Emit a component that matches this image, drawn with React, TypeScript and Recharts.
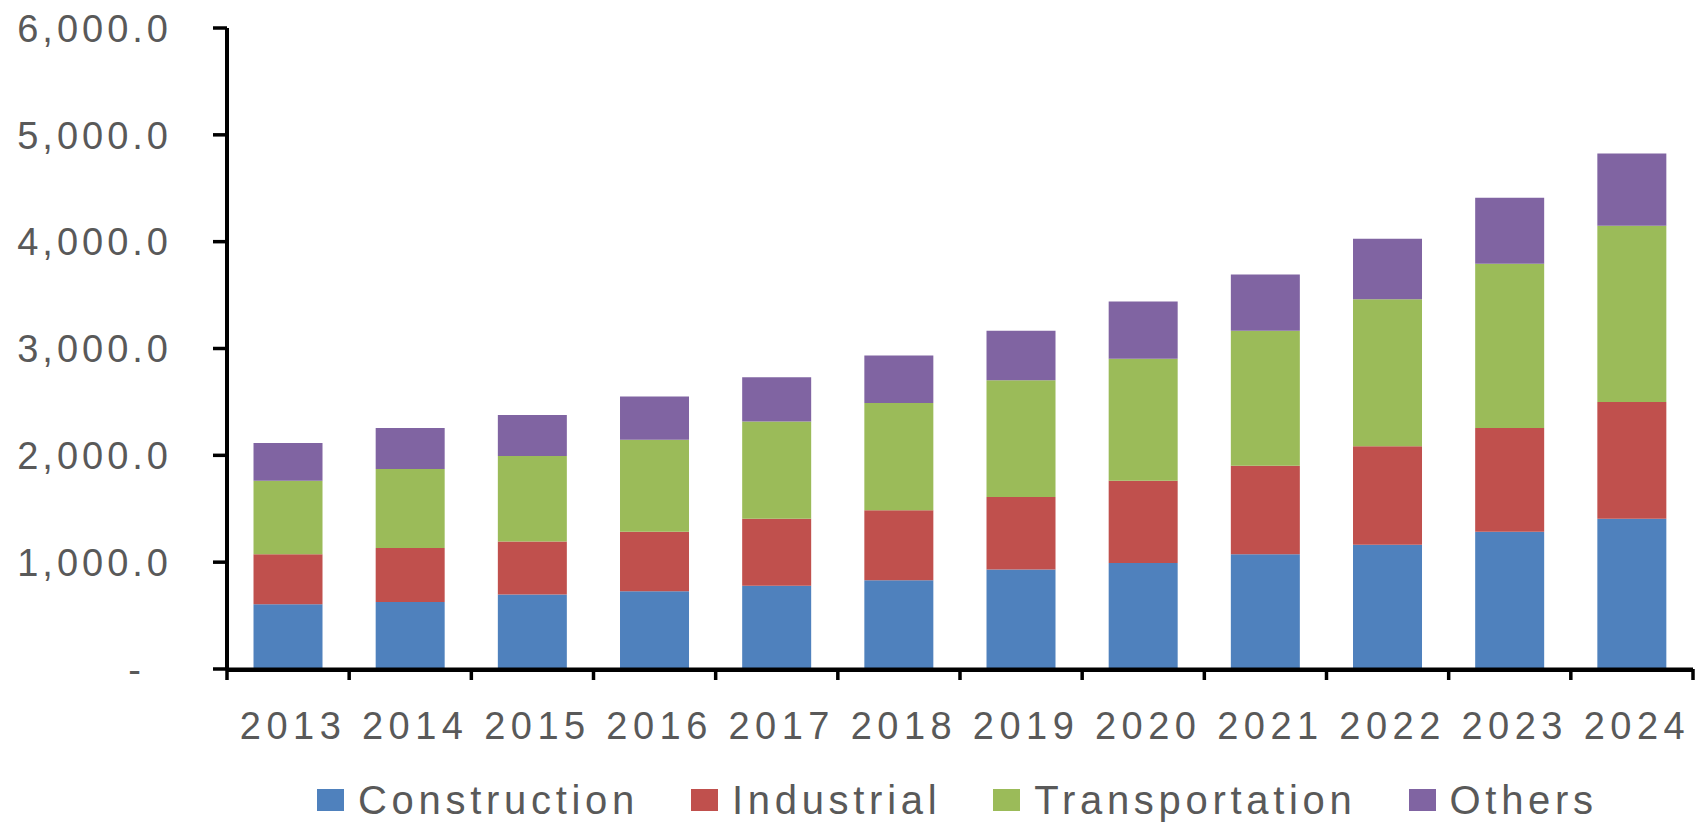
import React from "react";
import { BarChart, Bar, XAxis, YAxis } from "recharts";

const YEARS = ["2013", "2014", "2015", "2016", "2017", "2018", "2019", "2020", "2021", "2022", "2023", "2024"];
const CONSTRUCTION = [607, 627, 698, 728, 779, 830, 931, 992, 1073, 1164, 1285, 1406];
const INDUSTRIAL = [466, 506, 496, 557, 627, 657, 678, 769, 829, 920, 971, 1093];
const TRANSPORTATION = [688, 739, 799, 860, 911, 1002, 1093, 1143, 1265, 1376, 1538, 1650];
const OTHERS = [354, 384, 385, 405, 415, 445, 465, 536, 526, 567, 618, 677];
const Y_TICKS = [0, 1000, 2000, 3000, 4000, 5000, 6000];

const SERIES = [
  { key: "construction", name: "Construction", color: "#4f81bd" },
  { key: "industrial", name: "Industrial", color: "#c0504d" },
  { key: "transportation", name: "Transportation", color: "#9bbb59" },
  { key: "others", name: "Others", color: "#8064a2" },
];

const data = YEARS.map((year, i) => ({
  year,
  construction: CONSTRUCTION[i],
  industrial: INDUSTRIAL[i],
  transportation: TRANSPORTATION[i],
  others: OTHERS[i],
}));

const FONT = "'Liberation Sans', Arial, sans-serif";
const TEXT = "#595959";

function formatThousands(v: number) {
  return v.toLocaleString("en-US", { minimumFractionDigits: 1, maximumFractionDigits: 1 });
}

// category ticks sit between the bars, and the axis base is thickened under the bars
function YearTick(props: any) {
  const { x, y, payload, index, visibleTicksCount } = props;
  const half = payload?.offset || 61;
  const isLast = index === (visibleTicksCount ?? YEARS.length) - 1;
  return (
    <g>
      <line x1={x - half} x2={x + half} y1={y + 1.5} y2={y + 1.5} stroke="#000" strokeWidth={3} />
      <line x1={x - half} x2={x - half} y1={y} y2={y + 11} stroke="#000" strokeWidth={3.5} />
      {isLast && <line x1={x + half} x2={x + half} y1={y} y2={y + 11} stroke="#000" strokeWidth={3.5} />}
      <text
        x={x + 5}
        y={y + 70}
        textAnchor="middle"
        fill={TEXT}
        fontFamily={FONT}
        fontSize={38}
        letterSpacing={5.5}
      >
        {payload.value}
      </text>
    </g>
  );
}

function ValueTick(props: any) {
  const { x, y, payload } = props;
  const zero = payload.value === 0;
  return (
    <text
      x={zero ? x - 27 : x}
      y={y}
      dy="0.36em"
      textAnchor="end"
      fill={TEXT}
      fontFamily={FONT}
      fontSize={38}
      letterSpacing={4}
    >
      {zero ? "-" : formatThousands(payload.value)}
    </text>
  );
}

function ChartLegend() {
  return (
    <div
      style={{
        position: "absolute",
        left: 317,
        top: 775,
        display: "flex",
        alignItems: "center",
        gap: 52,
        fontFamily: FONT,
        fontSize: 40,
        letterSpacing: 4.7,
        color: TEXT,
        lineHeight: "50px",
        whiteSpace: "nowrap",
      }}
    >
      {SERIES.map((s) => (
        <div key={s.key} style={{ display: "flex", alignItems: "center" }}>
          <span style={{ width: 27, height: 22, background: s.color, marginRight: 14, display: "inline-block" }} />
          <span>{s.name}</span>
        </div>
      ))}
    </div>
  );
}

export default function App() {
  return (
    <div style={{ position: "absolute", left: 0, top: 0, width: 1700, height: 823, background: "#fff" }}>
      <BarChart
        width={1700}
        height={823}
        data={data}
        margin={{ top: 28, right: 7, left: 0, bottom: 0 }}
        barCategoryGap="21.7%"
      >
        <XAxis
          dataKey="year"
          height={154}
          axisLine={{ stroke: "#000", strokeWidth: 3 }}
          tickLine={false}
          tickSize={0}
          tickMargin={0}
          interval={0}
          tick={<YearTick />}
        />
        <YAxis
          width={227}
          domain={[0, 6000]}
          ticks={Y_TICKS}
          interval={0}
          axisLine={{ stroke: "#000", strokeWidth: 4 }}
          tickLine={{ stroke: "#000", strokeWidth: 3.5 }}
          tickSize={14}
          tickMargin={41}
          tick={<ValueTick />}
        />
        {SERIES.map((s) => (
          <Bar key={s.key} dataKey={s.key} name={s.name} stackId="a" fill={s.color} isAnimationActive={false} />
        ))}
      </BarChart>
      <ChartLegend />
    </div>
  );
}
